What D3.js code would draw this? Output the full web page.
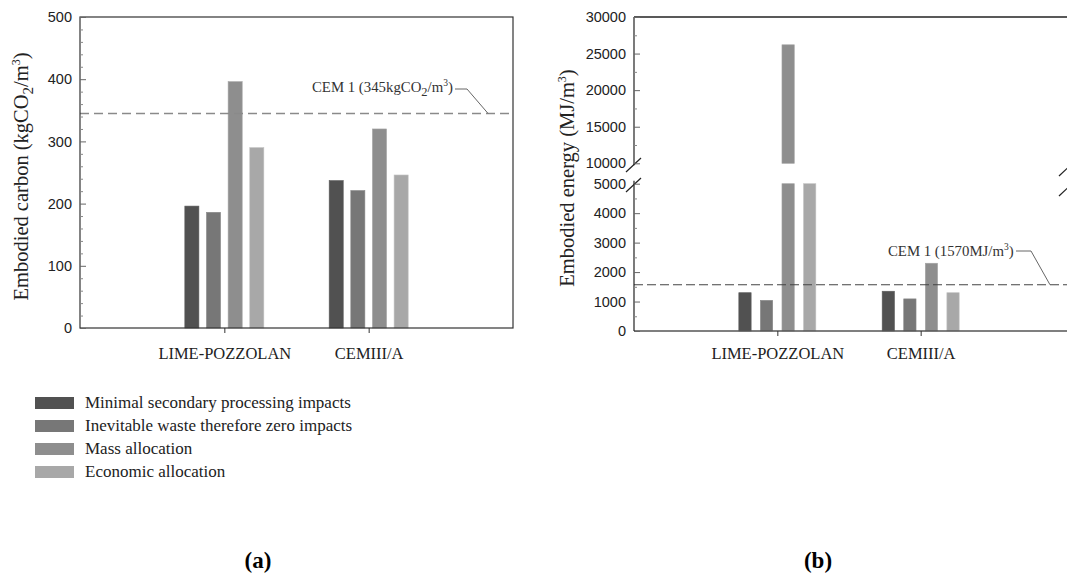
<!DOCTYPE html>
<html><head><meta charset="utf-8">
<script src="https://cdn.jsdelivr.net/npm/d3@7"></script>
<style>
html,body{margin:0;padding:0;background:#fff;}
svg{display:block;}
</style></head>
<body>
<svg id="chart" width="1067" height="575"></svg>
<script>
// ---- data ----
const categories = ["LIME-POZZOLAN", "CEMIII/A"];
const seriesNames = ["Minimal secondary processing impacts", "Inevitable waste therefore zero impacts", "Mass allocation", "Economic allocation"];
const seriesColors = ["#515151", "#777777", "#8e8e8e", "#a8a8a8"];
// embodied carbon (kgCO2/m3), per series, per category
const carbonMinimal = [196, 237];
const carbonInevitable = [186, 221];
const carbonMass = [396, 320];
const carbonEconomic = [290, 246];
// embodied energy (MJ/m3)
const energyMinimal = [1300, 1350];
const energyInevitable = [1040, 1090];
const energyMass = [26200, 2300];
const energyEconomic = [7500, 1300];
const carbonRef = 345;
const energyRef = 1570;
const carbonTicks = [0, 100, 200, 300, 400, 500];
const energyLowTicks = [0, 1000, 2000, 3000, 4000, 5000];
const energyHighTicks = [10000, 15000, 20000, 25000, 30000];

const carbonData = [carbonMinimal, carbonInevitable, carbonMass, carbonEconomic];
const energyData = [energyMinimal, energyInevitable, energyMass, energyEconomic];

const svg = d3.select("#chart");
const serif = "'Liberation Serif','Times New Roman',serif";
const sans = "'Liberation Sans',Arial,sans-serif";

function styleYTicks(a) {
  a.select(".domain").remove();
  a.selectAll(".tick line").attr("stroke", "#666");
  a.selectAll(".tick text").style("font-family", sans).style("font-size", "14.5px").attr("fill", "#222");
}
function styleXTicks(a) {
  a.select(".domain").remove();
  a.selectAll(".tick line").attr("stroke", "#333");
  a.selectAll(".tick text").style("font-family", serif).style("font-size", "16.5px").attr("fill", "#222");
}

// ================= Chart (a) =================
{
  const L = 80, R = 513, T = 17, B = 328;
  const g = svg.append("g");
  const x = d3.scaleLinear().domain([0, 3]).range([L, R]);
  const y = d3.scaleLinear().domain([0, 500]).range([B, T]);
  const inner = d3.scaleBand().domain(d3.range(4)).range([-39.5, 39.5]).paddingInner(0.35);

  carbonData.forEach((vals, si) => {
    g.selectAll(null).data(vals).join("rect")
      .attr("x", (d, ci) => x(ci + 1) + inner(si))
      .attr("width", inner.bandwidth())
      .attr("y", d => y(d))
      .attr("height", d => y(0) - y(d))
      .attr("fill", seriesColors[si])
      .attr("stroke", d3.color(seriesColors[si]).brighter(0.4))
      .attr("stroke-width", 0.6);
  });

  g.append("line").attr("x1", L).attr("x2", R).attr("y1", y(carbonRef)).attr("y2", y(carbonRef))
    .attr("stroke", "#8a8a8a").attr("stroke-width", 1.5).attr("stroke-dasharray", "9,5");
  const lab = g.append("text").attr("x", 312).attr("y", 92)
    .attr("font-family", serif).attr("font-size", 14.8).attr("fill", "#333");
  lab.append("tspan").text("CEM 1 (345kgCO");
  lab.append("tspan").attr("dy", 4).attr("font-size", 12.5).text("2");
  lab.append("tspan").attr("dy", -4).text("/m");
  lab.append("tspan").attr("dy", -6).attr("font-size", 9.5).text("3");
  lab.append("tspan").attr("dy", 6).text(")");
  g.append("path").attr("d", `M455,89 H467 L488,${y(carbonRef)}`)
    .attr("fill", "none").attr("stroke", "#555").attr("stroke-width", 0.9);

  g.append("rect").attr("x", L).attr("y", T).attr("width", R - L).attr("height", B - T)
    .attr("fill", "none").attr("stroke", "#333").attr("stroke-width", 1.2);

  const ya = g.append("g").attr("transform", `translate(${L},0)`)
    .call(d3.axisLeft(y).tickValues(carbonTicks).tickSize(-6).tickPadding(8).tickFormat(d3.format("d")));
  styleYTicks(ya);
  const ym = g.append("g").attr("transform", `translate(${L},0)`)
    .call(d3.axisLeft(y).tickValues(d3.range(0, 501, 20).filter(v => v % 100)).tickSize(-3).tickFormat(""));
  ym.select(".domain").remove();
  ym.selectAll(".tick line").attr("stroke", "#888");

  const xa = g.append("g").attr("transform", `translate(0,${B})`)
    .call(d3.axisBottom(x).tickValues([1, 2]).tickSize(5).tickPadding(14).tickFormat(d => categories[d - 1]));
  styleXTicks(xa);

  const yl = g.append("text").attr("transform", `translate(28,${(T + B) / 2 + 4}) rotate(-90)`)
    .attr("text-anchor", "middle").attr("font-family", serif).attr("font-size", 20.5).attr("fill", "#222");
  yl.append("tspan").text("Embodied carbon (kgCO");
  yl.append("tspan").attr("dy", 5).attr("font-size", 15).text("2");
  yl.append("tspan").attr("dy", -5).text("/m");
  yl.append("tspan").attr("dy", -8).attr("font-size", 12).text("3");
  yl.append("tspan").attr("dy", 8).text(")");

  const lg = g.append("g");
  seriesNames.forEach((name, i) => {
    const cy = 403 + i * 23;
    lg.append("rect").attr("x", 35).attr("y", cy - 6).attr("width", 39).attr("height", 12).attr("fill", seriesColors[i]);
    lg.append("text").attr("x", 85).attr("y", cy + 5).attr("font-family", serif).attr("font-size", 17)
      .attr("fill", "#222").text(name);
  });

  svg.append("text").attr("x", 258).attr("y", 568).attr("text-anchor", "middle")
    .attr("font-family", serif).attr("font-weight", "bold").attr("font-size", 23).text("(a)");
}

// ================= Chart (b) =================
{
  const L = 634, R = 1064, T = 17, B = 331;
  const lowTop = 183.7, highBot = 163.3;
  const g = svg.append("g");
  const x = d3.scaleLinear().domain([0, 3]).range([L, R]);
  const yLow = d3.scaleLinear().domain([0, 5000]).range([B, lowTop]);
  const yHigh = d3.scaleLinear().domain([10000, 30000]).range([highBot, T]);
  const inner = d3.scaleBand().domain(d3.range(4)).range([-38.5, 38.5]).paddingInner(0.43);

  energyData.forEach((vals, si) => {
    g.selectAll(null).data(vals).join("rect")
      .attr("x", (d, ci) => x(ci + 1) + inner(si))
      .attr("width", inner.bandwidth())
      .attr("y", d => yLow(Math.min(d, 5000)))
      .attr("height", d => yLow(0) - yLow(Math.min(d, 5000)))
      .attr("fill", seriesColors[si])
      .attr("stroke", d3.color(seriesColors[si]).brighter(0.4))
      .attr("stroke-width", 0.6);
    g.selectAll(null).data(vals.map((v, ci) => ({ v, ci })).filter(d => d.v > 10000)).join("rect")
      .attr("x", d => x(d.ci + 1) + inner(si))
      .attr("width", inner.bandwidth())
      .attr("y", d => yHigh(d.v))
      .attr("height", d => yHigh(10000) - yHigh(d.v))
      .attr("fill", seriesColors[si])
      .attr("stroke", d3.color(seriesColors[si]).brighter(0.4))
      .attr("stroke-width", 0.6);
  });

  g.append("line").attr("x1", L).attr("x2", 1067).attr("y1", yLow(energyRef)).attr("y2", yLow(energyRef))
    .attr("stroke", "#444").attr("stroke-width", 1.2).attr("stroke-dasharray", "9,4");
  const lab = g.append("text").attr("x", 888).attr("y", 256)
    .attr("font-family", serif).attr("font-size", 14.8).attr("fill", "#333");
  lab.append("tspan").text("CEM 1 (1570MJ/m");
  lab.append("tspan").attr("dy", -6).attr("font-size", 9.5).text("3");
  lab.append("tspan").attr("dy", 6).text(")");
  g.append("path").attr("d", `M1016,251 H1031 L1050,${yLow(energyRef)}`)
    .attr("fill", "none").attr("stroke", "#555").attr("stroke-width", 0.9);

  const st = "#222";
  g.append("line").attr("x1", L).attr("x2", 1067).attr("y1", T).attr("y2", T).attr("stroke", st).attr("stroke-width", 1.3);
  g.append("line").attr("x1", L).attr("x2", 1067).attr("y1", B).attr("y2", B).attr("stroke", "#555").attr("stroke-width", 1.5);
  g.append("line").attr("x1", L).attr("x2", L).attr("y1", T).attr("y2", highBot + 2).attr("stroke", st).attr("stroke-width", 1.2);
  g.append("line").attr("x1", L).attr("x2", L).attr("y1", lowTop - 3).attr("y2", B).attr("stroke", st).attr("stroke-width", 1.2);
  [[L, 165], [L, 185], [1067, 169], [1067, 189]].forEach(([cx, cy]) => {
    g.append("line").attr("x1", cx - 8).attr("y1", cy + 7).attr("x2", cx + 7).attr("y2", cy - 7)
      .attr("stroke", "#222").attr("stroke-width", 1.2);
  });

  const fmt = d3.format("d");
  const ya1 = g.append("g").attr("transform", `translate(${L},0)`)
    .call(d3.axisLeft(yLow).tickValues(energyLowTicks).tickSize(-6).tickPadding(8).tickFormat(fmt));
  const ya2 = g.append("g").attr("transform", `translate(${L},0)`)
    .call(d3.axisLeft(yHigh).tickValues(energyHighTicks).tickSize(-6).tickPadding(8).tickFormat(fmt));
  styleYTicks(ya1); styleYTicks(ya2);
  const ym1 = g.append("g").attr("transform", `translate(${L},0)`)
    .call(d3.axisLeft(yLow).tickValues([500, 1500, 2500, 3500, 4500]).tickSize(-3).tickFormat(""));
  const ym2 = g.append("g").attr("transform", `translate(${L},0)`)
    .call(d3.axisLeft(yHigh).tickValues([12500, 17500, 22500, 27500]).tickSize(-3).tickFormat(""));
  [ym1, ym2].forEach(a => { a.select(".domain").remove(); a.selectAll(".tick line").attr("stroke", "#888"); });

  const xa = g.append("g").attr("transform", `translate(0,${B})`)
    .call(d3.axisBottom(x).tickValues([1, 2]).tickSize(5).tickPadding(11).tickFormat(d => categories[d - 1]));
  styleXTicks(xa);

  const yl = g.append("text").attr("transform", `translate(574,${(T + B) / 2 + 4}) rotate(-90)`)
    .attr("text-anchor", "middle").attr("font-family", serif).attr("font-size", 20.5).attr("fill", "#222");
  yl.append("tspan").text("Embodied energy (MJ/m");
  yl.append("tspan").attr("dy", -8).attr("font-size", 12).text("3");
  yl.append("tspan").attr("dy", 8).text(")");

  svg.append("text").attr("x", 818).attr("y", 568).attr("text-anchor", "middle")
    .attr("font-family", serif).attr("font-weight", "bold").attr("font-size", 23).text("(b)");
}
</script>
</body></html>
